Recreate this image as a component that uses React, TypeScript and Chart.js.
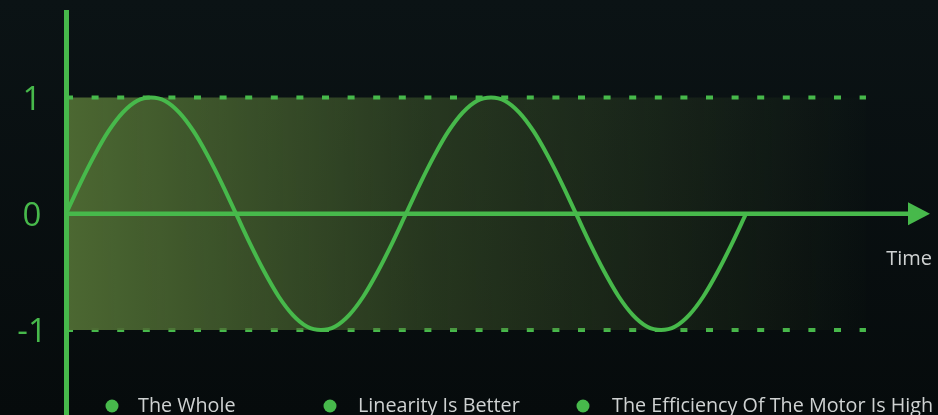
import React, { useEffect, useRef } from "react";
import { Chart, registerables } from "chart.js";

Chart.register(...registerables);

// Phase of the wave in degrees and the signal value read at each phase
const phaseDeg = [
  0, 15, 30, 45, 60, 75, 90, 105, 120, 135, 150, 165, 180, 195, 210, 225, 240, 255, 270, 285, 300, 315, 330, 345,
  360, 375, 390, 405, 420, 435, 450, 465, 480, 495, 510, 525, 540, 555, 570, 585, 600, 615, 630, 645, 660, 675, 690, 705, 720,
];
const waveValues = [
  0, 0.26, 0.5, 0.71, 0.87, 0.97, 1, 0.97, 0.87, 0.71, 0.5, 0.26, 0, -0.26, -0.5, -0.71, -0.87, -0.97, -1, -0.97, -0.87, -0.71, -0.5, -0.26,
  0, 0.26, 0.5, 0.71, 0.87, 0.97, 1, 0.97, 0.87, 0.71, 0.5, 0.26, 0, -0.26, -0.5, -0.71, -0.87, -0.97, -1, -0.97, -0.87, -0.71, -0.5, -0.26, 0,
];

// Limit band (dotted lines at +1 / -1)
const bandPhase = [0, 847];
const upperLimit = [1, 1];
const lowerLimit = [-1, -1];

// Y tick labels
const yTickValues = [1, 0, -1];
const yTickLabels = ["1", "0", "-1"];

// Legend labels
const legendLabels = ["The Whole", "Linearity Is Better", "The Efficiency Of The Motor Is High"];
const xAxisTitle = "Time";

const GREEN = "#47b94b";
const TEXT = "#cfd2d2";
const FONT = '"Open Sans", "DejaVu Sans", sans-serif';

const overlayPlugin = {
  id: "overlay",
  afterDatasetsDraw(chart: any) {
    const { ctx, chartArea, scales } = chart;
    const xs = scales.x;
    const ys = scales.y;
    const x0 = xs.getPixelForValue(0);
    const y0 = ys.getPixelForValue(0);
    ctx.save();
    // y axis
    ctx.strokeStyle = GREEN;
    ctx.lineWidth = 5;
    ctx.beginPath();
    ctx.moveTo(x0 + 0.5, chartArea.top);
    ctx.lineTo(x0 + 0.5, chartArea.bottom);
    ctx.stroke();
    // x axis
    const tip = chartArea.right;
    const base = tip - 22;
    ctx.lineWidth = 4.5;
    ctx.beginPath();
    ctx.moveTo(x0, y0);
    ctx.lineTo(base + 1, y0);
    ctx.stroke();
    ctx.fillStyle = GREEN;
    ctx.beginPath();
    ctx.moveTo(base, y0 - 11.5);
    ctx.lineTo(tip, y0);
    ctx.lineTo(base, y0 + 11.5);
    ctx.closePath();
    ctx.fill();
    // axis title
    ctx.fillStyle = TEXT;
    ctx.font = `20px ${FONT}`;
    ctx.textAlign = "right";
    ctx.textBaseline = "alphabetic";
    ctx.fillText(xAxisTitle, tip + 2, y0 + 51);
    // y tick labels
    ctx.fillStyle = GREEN;
    ctx.font = `33px ${FONT}`;
    ctx.textAlign = "center";
    yTickValues.forEach((v, i) => {
      ctx.fillText(yTickLabels[i], 32, ys.getPixelForValue(v) + 12);
    });
    // legend
    const dotX = [112, 330, 583];
    const textX = [138, 358, 612];
    ctx.font = `19.75px ${FONT}`;
    ctx.textAlign = "left";
    legendLabels.forEach((lab, i) => {
      ctx.fillStyle = GREEN;
      ctx.beginPath();
      ctx.arc(dotX[i], 406, 6.5, 0, Math.PI * 2);
      ctx.fill();
      ctx.fillStyle = TEXT;
      ctx.fillText(lab, textX[i], 412);
    });
    ctx.restore();
  },
};

export default function App() {
  const ref = useRef<HTMLCanvasElement>(null);
  useEffect(() => {
    if (!ref.current) return;
    const bandFill = (c: any) => {
      const chart = c.chart;
      const { ctx, chartArea, scales } = chart;
      if (!chartArea) return "rgba(0,0,0,0)";
      const xa = scales.x.getPixelForValue(0);
      const xb = xa + 800;
      const g = ctx.createLinearGradient(xa, 0, xb, 0);
      g.addColorStop(0, "rgba(76,104,50,1)");
      g.addColorStop(0.45, "rgba(76,104,50,0.45)");
      g.addColorStop(1, "rgba(76,104,50,0.02)");
      return g;
    };
    const chart = new Chart(ref.current, {
      type: "line",
      data: {
        datasets: [
          {
            label: "wave",
            data: phaseDeg.map((x, i) => ({ x, y: waveValues[i] })),
            borderColor: GREEN,
            borderWidth: 4,
            pointRadius: 0,
            fill: false,
            cubicInterpolationMode: "monotone",
          },
          {
            label: "upper",
            data: bandPhase.map((x, i) => ({ x, y: upperLimit[i] })),
            borderColor: GREEN,
            borderWidth: 4,
            borderDash: [7, 18.6],
            borderCapStyle: "butt",
            pointRadius: 0,
            fill: { value: -1 },
            backgroundColor: bandFill,
          },
          {
            label: "lower",
            data: bandPhase.map((x, i) => ({ x, y: lowerLimit[i] })),
            borderColor: GREEN,
            borderWidth: 4,
            borderDash: [7, 18.6],
            borderCapStyle: "butt",
            pointRadius: 0,
            fill: false,
          },
        ],
      } as any,
      options: {
        animation: false,
        responsive: false,
        events: [],
        layout: { padding: { left: 66, right: 8, top: 10, bottom: 0 } },
        scales: {
          x: { type: "linear", min: 0, max: 914.8, display: false },
          y: { type: "linear", min: -1.732, max: 1.753, display: false },
        },
        plugins: {
          legend: { display: false },
          tooltip: { enabled: false },
        },
      } as any,
      plugins: [overlayPlugin],
    });
    return () => chart.destroy();
  }, []);
  return (
    <div
      style={{
        position: "fixed",
        left: 0,
        top: 0,
        width: 938,
        height: 415,
        background: "linear-gradient(#0b1315, #060b0c)",
      }}
    >
      <canvas ref={ref} width={938} height={415} style={{ width: 938, height: 415, display: "block" }} />
    </div>
  );
}
